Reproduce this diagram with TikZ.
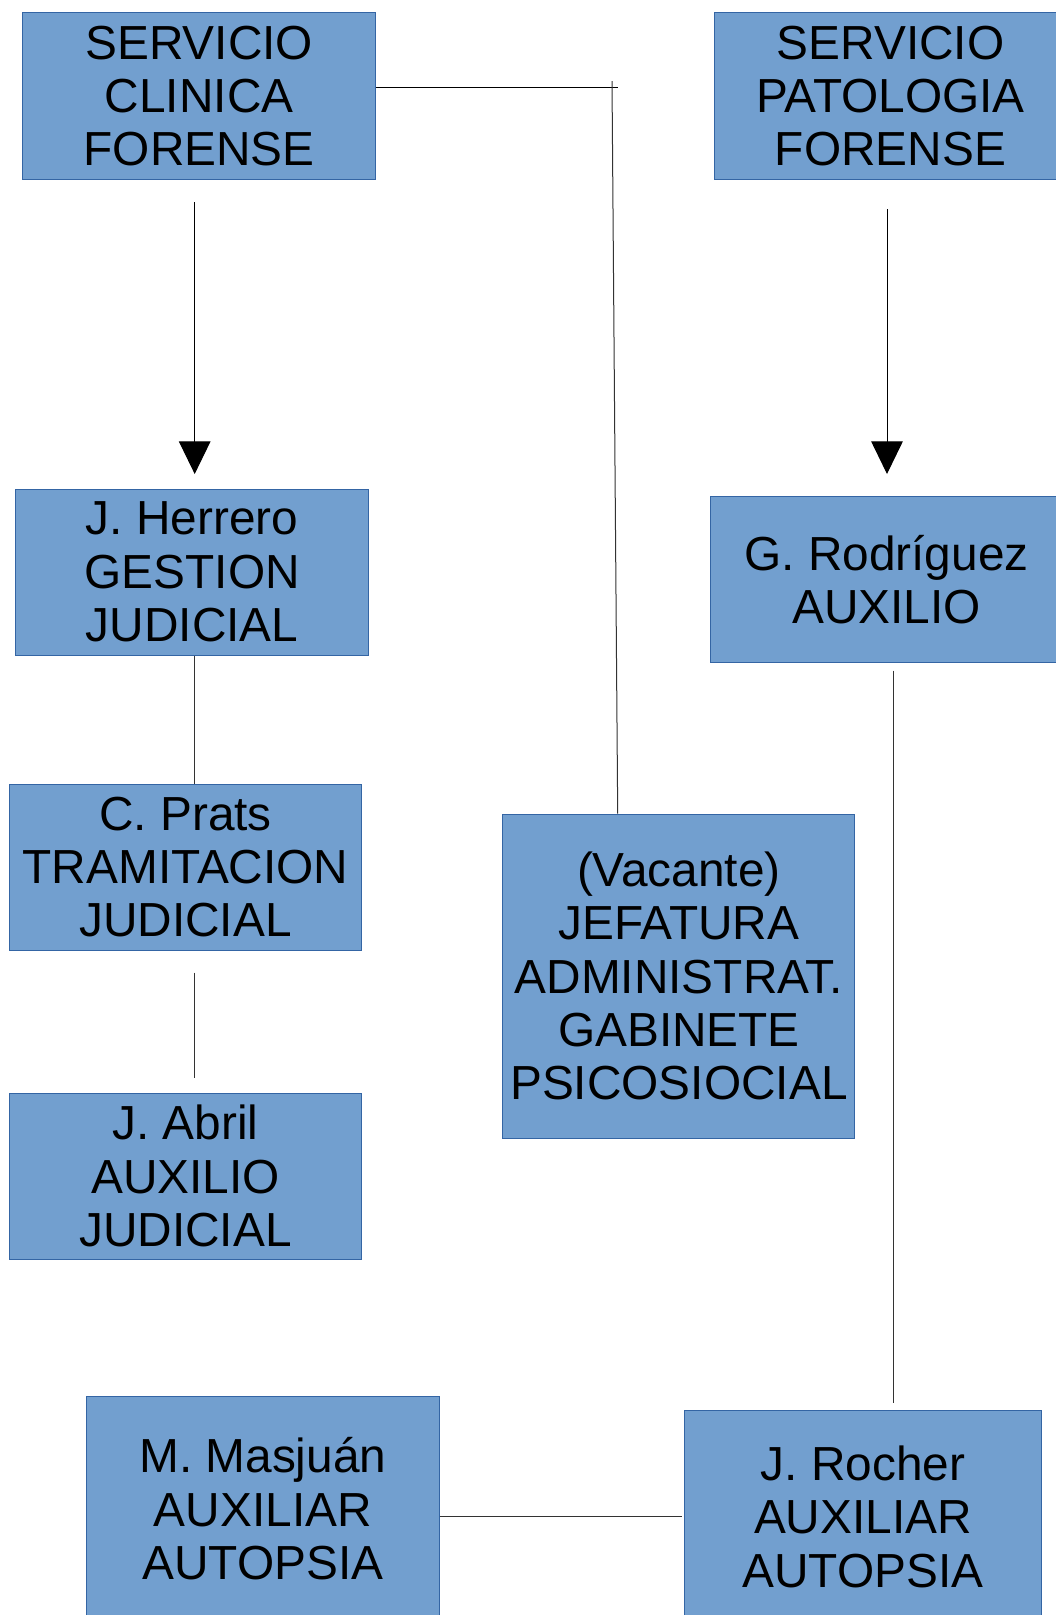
\documentclass[tikz,border=0pt]{standalone}
\usepackage{fontspec}
\setmainfont{Liberation Sans}
\usetikzlibrary{arrows.meta,calc}
\definecolor{boxfill}{HTML}{729FCF}
\definecolor{boxline}{HTML}{3465A4}
\tikzset{
  orgbox/.style={draw=boxline, fill=boxfill, line width=1pt, inner sep=0pt,
    align=center, font=\fontsize{47.8}{53.4}\selectfont, text=black},
  conn/.style={draw=black!80, line width=1pt},
  arr/.style={draw=black, line width=1pt, -{Triangle[length=32.6pt,width=31.5pt]}}
}
\begin{document}
\begin{tikzpicture}[x=1pt,y=-1pt]
\useasboundingbox (0,0) rectangle (1056,1615);
\clip (0,0) rectangle (1056,1615);
\node[orgbox, minimum width=353pt, minimum height=166.6pt] (b1) at (199.2,96) {SERVICIO\ \\CLINICA\\FORENSE};
\node[orgbox, minimum width=353pt, minimum height=166.6pt] (b2) at (890.5,96) {SERVICIO\\PATOLOGIA\\FORENSE};
\node[orgbox, minimum width=353pt, minimum height=166pt] (b3) at (192.2,572) {J. Herrero\\GESTION\ \\JUDICIAL};
\node[orgbox, minimum width=353pt, minimum height=166pt] (b4) at (886.5,579.5) {G. Rodríguez\\AUXILIO};
\node[orgbox, minimum width=352pt, minimum height=166pt] (b5) at (185.5,867) {C. Prats\\TRAMITACION\\JUDICIAL};
\node[orgbox, minimum width=352pt, minimum height=324pt] (b6) at (678.9,976) {(Vacante)\\JEFATURA\\ADMINISTRAT.\\GABINETE\\PSICOSIOCIAL};
\node[orgbox, minimum width=352pt, minimum height=166pt] (b7) at (185.5,1176) {J. Abril\\AUXILIO\\JUDICIAL};
\node[orgbox, minimum width=352.5pt, minimum height=226pt] (b8) at (262.8,1509) {M. Masjuán\\AUXILIAR\\AUTOPSIA};
\node[orgbox, minimum width=357.4pt, minimum height=213pt] (b9) at (863,1516.5) {J. Rocher\\AUXILIAR\\AUTOPSIA};

\coordinate (hend) at (618,87.6);
\coordinate (vtop) at (612,81);
\coordinate (a1s) at (194.7,202);
\coordinate (a1e) at (194.7,474);
\coordinate (a2s) at (887,209);
\coordinate (a2e) at (887,474);
\coordinate (l2s) at (194.7,972.5);
\coordinate (l2e) at (194.7,1077.6);
\coordinate (l3s) at (893,670.7);
\coordinate (l3e) at (893,1403);

\draw[conn, draw=black] (b1.east |- hend) -- (hend);
\draw[conn] (vtop) -- ($(b6.north west)+(115.3,0)$);
\draw[arr] (a1s) -- (a1e);
\draw[arr] (a2s) -- (a2e);
\draw[conn] (b3.south -| a1s) -- (b5.north -| a1s);
\draw[conn] (l2s) -- (l2e);
\draw[conn] (l3s) -- (l3e);
\draw[conn] (b9.west -| b8.east) -- ($(b9.west)+(-2,0)$);
\end{tikzpicture}
\end{document}
